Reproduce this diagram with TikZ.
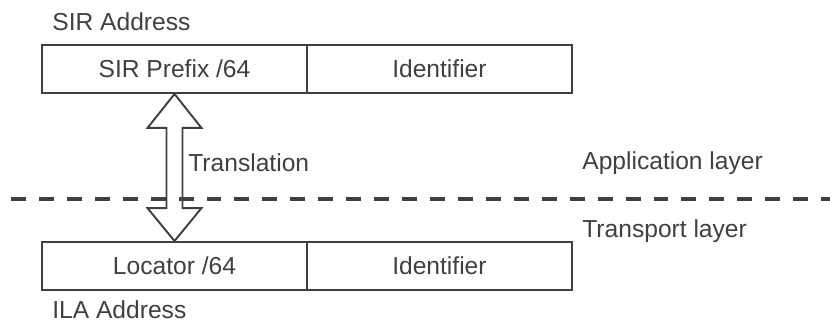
\documentclass[tikz,border=0pt]{standalone}
\usepackage{fontspec}
\setmainfont{Liberation Sans}
\usetikzlibrary{positioning, calc}
\definecolor{ink}{RGB}{64,64,64}

\begin{document}
\begin{tikzpicture}[x=0.02cm,y=-0.02cm,font=\fontsize{14}{16}\selectfont,color=ink,
     field/.style={draw=ink,line width=1.1pt,minimum width=5.3cm,minimum height=0.96cm,inner sep=0pt,text=ink},
     lbl/.style={inner sep=0pt,anchor=west,text=ink},
     layerline/.style={draw=ink,line width=2pt,dash pattern=on 8.5pt off 7.4pt}]
    \useasboundingbox (0,0) rectangle (830,323);
    % SIR address fields
    \node[field] (sirpre) at (174.5,69) {SIR Prefix /64};
    \node[field,right=-1.1pt of sirpre] (sirid) {Identifier};
    \node[lbl] (sirlbl) at (52,22) {SIR Address};
    % ILA address fields
    \node[field] (locpre) at (174.5,266) {Locator /64};
    \node[field,right=-1.1pt of locpre] (locid) {Identifier};
    \node[lbl] (ilalbl) at (52,310) {ILA Address};
    % translation arrow
    \draw[draw=ink,line width=1.1pt,fill=white,line join=miter]
      (sirpre.south) -- ++(27,34) -- ++(-19,0) -- ($(locpre.north)+(8,-33)$) -- ++(19,0)
      -- (locpre.north) -- ++(-27,-33) -- ++(19,0) -- ($(sirpre.south)+(-8,34)$) -- ++(-19,0) -- cycle;
    \node[lbl] (trans) at (188,163) {Translation};
    % layer boundary
    \coordinate (lineL) at (11,199);
    \coordinate (lineR) at (830,199);
    \draw[layerline] (lineL) -- (lineR);
    \node[lbl] (applbl) at (582,163) {Application layer};
    \node[lbl] (trlbl) at (582,231) {Transport layer};
  \end{tikzpicture}
\end{document}
